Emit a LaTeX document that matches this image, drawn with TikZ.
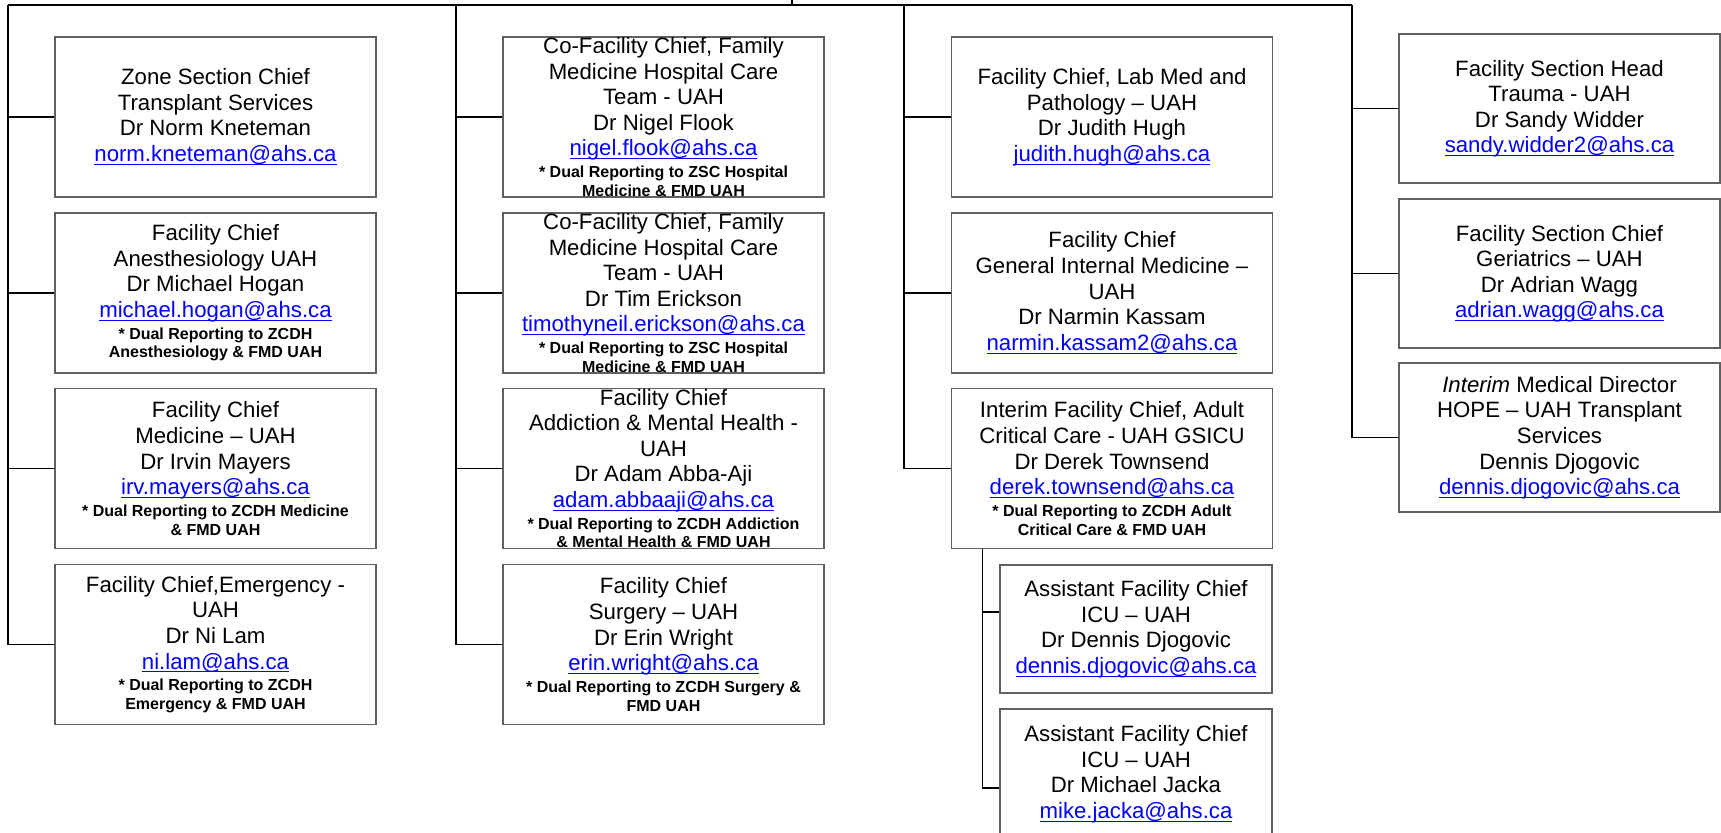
\documentclass[tikz,border=0pt]{standalone}
\usepackage{fontspec}
\setmainfont{Liberation Sans}
\definecolor{boxgray}{RGB}{96,96,96}
\definecolor{linkblue}{RGB}{0,0,255}
\newcommand{\mail}[1]{\textcolor{linkblue}{\underline{\smash{#1}}}}
\newcommand{\dual}[1]{\par\vspace{1.6pt}{\fontsize{8pt}{9.3pt}\selectfont\bfseries #1\par}}

\begin{document}
\begin{tikzpicture}[x=0.5pt,y=-0.5pt,
  info/.style={align=flush center, text width=155pt, inner sep=0pt,
    font=\fontsize{11.1pt}{12.8pt}\selectfont},
  box/.style={info, draw=boxgray, line width=0.85pt,
    minimum width=160.5pt, minimum height=80pt},
  short/.style={minimum height=74.5pt},
  subbox/.style={text width=130pt, minimum width=136pt, minimum height=64pt},
  link/.style={line width=0.7pt}]
  \useasboundingbox (0,0) rectangle (1721,833);

  % Top bar
  \coordinate (up) at (792,0);
  \coordinate (mid) at (792,5);
  \coordinate (c1) at (8,5);
  \coordinate (c2) at (456,5);
  \coordinate (c3) at (904,5);
  \coordinate (c4) at (1352,5);
  \draw[link] (up) -- (mid);
  \draw[link] (c1) -- (c4);

  % First column
  \node[box] (kneteman) at (215.5,117) {Zone Section Chief\\ Transplant Services\\ Dr Norm Kneteman\\ \mail{norm.kneteman@ahs.ca}};
  \node[box] (hogan) at (215.5,293) {Facility Chief\\ Anesthesiology UAH\\ Dr Michael Hogan\\ \mail{michael.hogan@ahs.ca}\dual{* Dual Reporting to ZCDH\\ Anesthesiology \& FMD UAH}};
  \node[box] (mayers) at (215.5,468.5) {Facility Chief\\ Medicine – UAH\\ Dr Irvin Mayers\\ \mail{irv.mayers@ahs.ca}\dual{* Dual Reporting to ZCDH Medicine\\ \& FMD UAH}};
  \node[box] (lam) at (215.5,644.5) {Facility Chief,Emergency -\\ UAH\\ Dr Ni Lam\\ \mail{ni.lam@ahs.ca}\dual{* Dual Reporting to ZCDH\\ Emergency \& FMD UAH}};
  \draw[link] (c1) |- (kneteman.west);
  \draw[link] (c1) |- (hogan.west);
  \draw[link] (c1) |- (mayers.west);
  \draw[link] (c1) |- (lam.west);

  % Second column (text runs past the lower edge)
  \node[box] (flook) at (663.5,117) {};
  \begin{scope}
    \clip (flook.south west) rectangle (flook.north east);
    \node[info] (flook-txt) at (flook.center) {Co-Facility Chief, Family\\ Medicine Hospital Care\\ Team - UAH\\ Dr Nigel Flook\\ \mail{nigel.flook@ahs.ca}\dual{* Dual Reporting to ZSC Hospital\\ Medicine \& FMD UAH}};
  \end{scope}
  \node[box] (erickson) at (663.5,293) {};
  \begin{scope}
    \clip (erickson.south west) rectangle (erickson.north east);
    \node[info] (erickson-txt) at (erickson.center) {Co-Facility Chief, Family\\ Medicine Hospital Care\\ Team - UAH\\ Dr Tim Erickson\\ \mail{timothyneil.erickson@ahs.ca}\dual{* Dual Reporting to ZSC Hospital\\ Medicine \& FMD UAH}};
  \end{scope}
  \node[box] (abbaaji) at (663.5,468.5) {};
  \begin{scope}
    \clip (abbaaji.south west) rectangle (abbaaji.north east);
    \node[info] (abbaaji-txt) at (abbaaji.center) {Facility Chief\\ Addiction \& Mental Health -\\ UAH\\ Dr Adam Abba-Aji\\ \mail{adam.abbaaji@ahs.ca}\dual{* Dual Reporting to ZCDH Addiction\\ \& Mental Health \& FMD UAH}};
  \end{scope}
  \node[box] (wright) at (663.5,644.5) {Facility Chief\\ Surgery – UAH\\ Dr Erin Wright\\ \mail{erin.wright@ahs.ca}\dual{* Dual Reporting to ZCDH Surgery \&\\ FMD UAH}};
  \draw[link] (c2) |- (flook.west);
  \draw[link] (c2) |- (erickson.west);
  \draw[link] (c2) |- (abbaaji.west);
  \draw[link] (c2) |- (wright.west);

  % Third column
  \node[box] (hugh) at (1112,117) {Facility Chief, Lab Med and\\ Pathology – UAH\\ Dr Judith Hugh\\ \mail{judith.hugh@ahs.ca}};
  \node[box] (kassam) at (1112,293) {Facility Chief\\ General Internal Medicine –\\ UAH\\ Dr Narmin Kassam\\ \mail{narmin.kassam2@ahs.ca}};
  \node[box] (townsend) at (1112,468.5) {Interim Facility Chief, Adult\\ Critical Care - UAH GSICU\\ Dr Derek Townsend\\ \mail{derek.townsend@ahs.ca}\dual{* Dual Reporting to ZCDH Adult\\ Critical Care \& FMD UAH}};
  \draw[link] (c3) |- (hugh.west);
  \draw[link] (c3) |- (kassam.west);
  \draw[link] (c3) |- (townsend.west);

  % ICU under the critical care chief
  \node[box, subbox] (djogovic) at (1136,629) {Assistant Facility Chief\\ ICU – UAH\\ Dr Dennis Djogovic\\ \mail{dennis.djogovic@ahs.ca}};
  \node[box, subbox, minimum height=65pt] (jacka) at (1136,774) {Assistant Facility Chief\\ ICU – UAH\\ Dr Michael Jacka\\ \mail{mike.jacka@ahs.ca}};
  \coordinate (c5) at ([xshift=16pt]townsend.south west);
  \draw[link] (c5) |- ([yshift=8.5pt]djogovic.west);
  \draw[link] (c5) |- ([yshift=-7pt]jacka.west);

  % Fourth column
  \node[box, short] (widder) at (1559.5,108.5) {Facility Section Head\\ Trauma - UAH\\ Dr Sandy Widder\\ \mail{sandy.widder2@ahs.ca}};
  \node[box, short] (wagg) at (1559.5,273.5) {Facility Section Chief\\ Geriatrics – UAH\\ Dr Adrian Wagg\\ \mail{adrian.wagg@ahs.ca}};
  \node[box, short] (hope) at (1559.5,437.5) {\textit{Interim} Medical Director\\ HOPE – UAH Transplant\\ Services\\ Dennis Djogovic\\ \mail{dennis.djogovic@ahs.ca}};
  \draw[link] (c4) |- (widder.west);
  \draw[link] (c4) |- (wagg.west);
  \draw[link] (c4) |- (hope.west);
\end{tikzpicture}
\end{document}
